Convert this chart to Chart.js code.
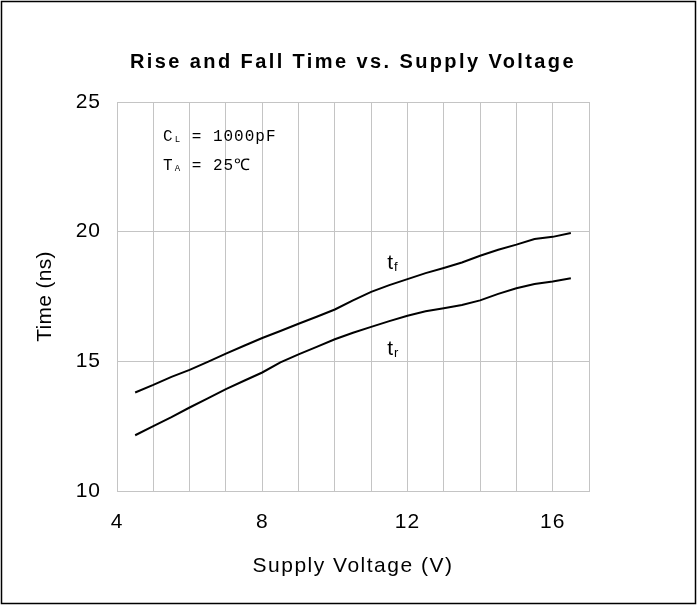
<!DOCTYPE html>
<html>
<head>
<meta charset="utf-8">
<script src="https://cdn.jsdelivr.net/npm/chart.js@4.4.1/dist/chart.umd.min.js"></script>
<style>
  html, body { margin: 0; padding: 0; background: #ffffff; }
  #wrap { width: 697px; height: 605px; position: relative; }
</style>
</head>
<body>
<div id="wrap"><canvas id="riseFallChart" width="697" height="605"></canvas></div>
<script>
// supply voltage (V)
const voltage = [4.5, 5, 5.5, 6, 6.5, 7, 7.5, 8, 8.5, 9, 9.5, 10, 10.5, 11, 11.5, 12, 12.5, 13, 13.5, 14, 14.5, 15, 15.5, 16, 16.5];
// fall time tf (ns)
const fallTime = [13.80, 14.09, 14.40, 14.67, 14.98, 15.30, 15.60, 15.90, 16.17, 16.45, 16.72, 17.00, 17.35, 17.68, 17.94, 18.17, 18.40, 18.60, 18.81, 19.07, 19.30, 19.50, 19.72, 19.80, 19.95];
// rise time tr (ns)
const riseTime = [12.15, 12.50, 12.85, 13.22, 13.57, 13.93, 14.25, 14.57, 14.96, 15.27, 15.56, 15.85, 16.10, 16.33, 16.55, 16.76, 16.93, 17.05, 17.17, 17.35, 17.60, 17.82, 17.98, 18.08, 18.20];
const xTickLabels = [4, 8, 12, 16];

const gridColor = '#c4c4c4';
const sansFamily = 'Arial, "Liberation Sans", sans-serif';
const monoFamily = '"Courier New", "Liberation Mono", monospace';

// cadre noir + espacement des lettres pour les graduations
const frame = {
    id: 'frame',
    beforeDraw(chart) {
        const ctx = chart.ctx;
        ctx.save();
        ctx.fillStyle = '#ffffff';
        ctx.fillRect(0, 0, chart.width, chart.height);
        ctx.strokeStyle = '#000000';
        ctx.lineWidth = 1.5;
        ctx.strokeRect(1.5, 1.5, chart.width - 3, chart.height - 3);
        ctx.restore();
        ctx.letterSpacing = '1px';
    },
    beforeDatasetsDraw(chart) {
        chart.ctx.letterSpacing = '0px';
    }
};

// titres et textes libres (C_L, T_A, t_f, t_r)
const annotations = {
    id: 'annotations',
    afterDraw(chart) {
        const ctx = chart.ctx;
        const x = chart.scales.x;
        const y = chart.scales.y;
        const area = chart.chartArea;
        const midX = (area.left + area.right) / 2;

        const drawText = (text, px, py, font, spacing, rotate) => {
            ctx.save();
            ctx.fillStyle = '#000000';
            ctx.font = font;
            ctx.letterSpacing = spacing;
            ctx.textAlign = 'center';
            ctx.textBaseline = 'middle';
            ctx.translate(px, py);
            if (rotate) ctx.rotate(-Math.PI / 2);
            ctx.fillText(text, 0, 0);
            ctx.restore();
        };

        drawText('Rise and Fall Time vs. Supply Voltage', midX, 62, 'bold 20px ' + sansFamily, '2.4px', false);
        drawText('Supply Voltage (V)', midX, 566, '21px ' + sansFamily, '1.5px', false);
        drawText('Time (ns)', 45, (area.top + area.bottom) / 2, '21px ' + sansFamily, '0.3px', true);

        const drawSub = (px, py, main, sub, rest, mainFont, subFont, subDrop, spacing) => {
            ctx.save();
            ctx.fillStyle = '#000000';
            ctx.textBaseline = 'middle';
            ctx.textAlign = 'left';
            ctx.letterSpacing = spacing;
            ctx.font = mainFont;
            ctx.fillText(main, px, py);
            let cx = px + ctx.measureText(main).width + 1;
            ctx.font = subFont;
            ctx.fillText(sub, cx, py + subDrop);
            cx += ctx.measureText(sub).width;
            if (rest) {
                ctx.font = mainFont;
                ctx.fillText(rest, cx, py);
            }
            ctx.restore();
        };

        const mono = '16px ' + monoFamily;
        const monoSub = '9px ' + monoFamily;
        drawSub(x.getPixelForValue(5.27), y.getPixelForValue(23.67), 'C', 'L', ' = 1000pF', mono, monoSub, 3, '1px');
        drawSub(x.getPixelForValue(5.27), y.getPixelForValue(22.55), 'T', 'A', ' = 25\u2103', mono, monoSub, 3, '1px');

        const sans = '21px ' + sansFamily;
        const sansSub = '13px ' + sansFamily;
        drawSub(x.getPixelForValue(11.44), y.getPixelForValue(18.8), 't', 'f', '', sans, sansSub, 5, '0px');
        drawSub(x.getPixelForValue(11.44), y.getPixelForValue(15.48), 't', 'r', '', sans, sansSub, 5, '0px');
    }
};

new Chart(document.getElementById('riseFallChart').getContext('2d'), {
    type: 'line',
    data: {
        labels: voltage,
        datasets: [
            {
                label: 'tf',
                data: voltage.map((v, i) => ({ x: v, y: fallTime[i] })),
                borderColor: '#000000',
                borderWidth: 2,
                pointRadius: 0,
                tension: 0,
                fill: false
            },
            {
                label: 'tr',
                data: voltage.map((v, i) => ({ x: v, y: riseTime[i] })),
                borderColor: '#000000',
                borderWidth: 2,
                pointRadius: 0,
                tension: 0,
                fill: false
            }
        ]
    },
    options: {
        responsive: false,
        animation: false,
        devicePixelRatio: 1,
        layout: { padding: { left: 0, right: 108, top: 102, bottom: 0 } },
        scales: {
            x: {
                type: 'linear',
                min: 4,
                max: 17,
                afterFit: (scale) => { scale.height = 114; },
                grid: { color: gridColor, lineWidth: 1, drawTicks: false },
                border: { color: gridColor, width: 1 },
                ticks: {
                    stepSize: 1,
                    autoSkip: false,
                    maxRotation: 0,
                    padding: 19,
                    color: '#000000',
                    font: { family: sansFamily, size: 21 },
                    callback: (v) => xTickLabels.includes(v) ? String(v) : ''
                },
                title: { display: false }
            },
            y: {
                min: 10,
                max: 25,
                afterFit: (scale) => { scale.width = 117; },
                grid: { color: gridColor, lineWidth: 1, drawTicks: false },
                border: { color: gridColor, width: 1 },
                ticks: {
                    stepSize: 5,
                    padding: 16,
                    color: '#000000',
                    font: { family: sansFamily, size: 21 }
                },
                title: { display: false }
            }
        },
        plugins: {
            legend: { display: false },
            tooltip: { enabled: false },
            title: { display: false }
        }
    },
    plugins: [frame, annotations]
});
</script>
</body>
</html>
